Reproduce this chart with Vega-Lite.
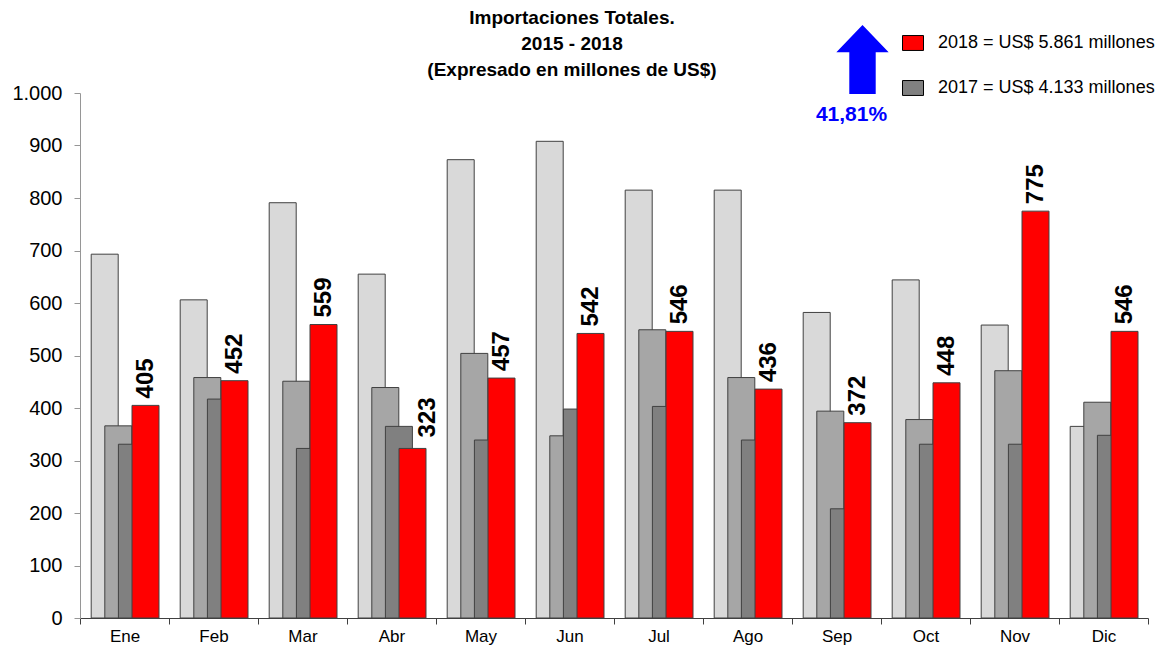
{
  "$schema": "https://vega.github.io/schema/vega-lite/v6.json",
  "width": 1068,
  "height": 525,
  "autosize": {"type": "none"},
  "padding": {"left": 80, "top": 93, "right": 18, "bottom": 32},
  "background": "white",
  "config": {
    "view": {"stroke": null},
    "font": "Liberation Sans",
    "locale": {"number": {"decimal": ",", "thousands": ".", "grouping": [3], "currency": ["US$", ""]}}
  },
  "title": {
    "text": ["Importaciones Totales.", "2015 - 2018", "(Expresado en millones de US$)"],
    "fontSize": 19,
    "fontWeight": "bold",
    "font": "Liberation Sans",
    "lineHeight": 26,
    "anchor": "middle",
    "dx": -42,
    "offset": -55,
    "color": "#000000"
  },
  "datasets": {
    "importaciones": [
      {"mes": "Ene", "anio": 2015, "valor": 693}, {"mes": "Ene", "anio": 2016, "valor": 366}, {"mes": "Ene", "anio": 2017, "valor": 331}, {"mes": "Ene", "anio": 2018, "valor": 405},
      {"mes": "Feb", "anio": 2015, "valor": 606}, {"mes": "Feb", "anio": 2016, "valor": 458}, {"mes": "Feb", "anio": 2017, "valor": 417}, {"mes": "Feb", "anio": 2018, "valor": 452},
      {"mes": "Mar", "anio": 2015, "valor": 791}, {"mes": "Mar", "anio": 2016, "valor": 451}, {"mes": "Mar", "anio": 2017, "valor": 323}, {"mes": "Mar", "anio": 2018, "valor": 559},
      {"mes": "Abr", "anio": 2015, "valor": 655}, {"mes": "Abr", "anio": 2016, "valor": 439}, {"mes": "Abr", "anio": 2017, "valor": 365}, {"mes": "Abr", "anio": 2018, "valor": 323},
      {"mes": "May", "anio": 2015, "valor": 873}, {"mes": "May", "anio": 2016, "valor": 504}, {"mes": "May", "anio": 2017, "valor": 339}, {"mes": "May", "anio": 2018, "valor": 457},
      {"mes": "Jun", "anio": 2015, "valor": 908}, {"mes": "Jun", "anio": 2016, "valor": 347}, {"mes": "Jun", "anio": 2017, "valor": 398}, {"mes": "Jun", "anio": 2018, "valor": 542},
      {"mes": "Jul", "anio": 2015, "valor": 815}, {"mes": "Jul", "anio": 2016, "valor": 549}, {"mes": "Jul", "anio": 2017, "valor": 403}, {"mes": "Jul", "anio": 2018, "valor": 546},
      {"mes": "Ago", "anio": 2015, "valor": 815}, {"mes": "Ago", "anio": 2016, "valor": 458}, {"mes": "Ago", "anio": 2017, "valor": 339}, {"mes": "Ago", "anio": 2018, "valor": 436},
      {"mes": "Sep", "anio": 2015, "valor": 582}, {"mes": "Sep", "anio": 2016, "valor": 394}, {"mes": "Sep", "anio": 2017, "valor": 208}, {"mes": "Sep", "anio": 2018, "valor": 372},
      {"mes": "Oct", "anio": 2015, "valor": 644}, {"mes": "Oct", "anio": 2016, "valor": 378}, {"mes": "Oct", "anio": 2017, "valor": 331}, {"mes": "Oct", "anio": 2018, "valor": 448},
      {"mes": "Nov", "anio": 2015, "valor": 558}, {"mes": "Nov", "anio": 2016, "valor": 471}, {"mes": "Nov", "anio": 2017, "valor": 331}, {"mes": "Nov", "anio": 2018, "valor": 775},
      {"mes": "Dic", "anio": 2015, "valor": 365}, {"mes": "Dic", "anio": 2016, "valor": 411}, {"mes": "Dic", "anio": 2017, "valor": 348}, {"mes": "Dic", "anio": 2018, "valor": 546}
    ],
    "flecha": [{"mes": "Sep", "valor": 1064}],
    "variacion": [{"mes": "Sep", "valor": 958, "texto": "41,81%"}]
  },
  "layer": [
    {
      "data": {"name": "importaciones"},
      "mark": {"type": "bar", "width": 27, "stroke": "#404040", "strokeWidth": 1, "opacity": 1},
      "encoding": {
        "x": {
          "field": "mes", "type": "nominal",
          "scale": {"domain": ["Ene", "Feb", "Mar", "Abr", "May", "Jun", "Jul", "Ago", "Sep", "Oct", "Nov", "Dic"], "paddingInner": 0, "paddingOuter": 0},
          "axis": {"title": null, "labelAngle": 0, "tickBand": "extent", "tickSize": 6, "tickColor": "#404040", "domainColor": "#404040", "labelFontSize": 17, "labelPadding": 4, "labelColor": "#000000", "labelFont": "Liberation Sans"}
        },
        "xOffset": {"field": "anio", "type": "quantitative", "scale": {"domain": [2015, 2018], "range": [24.7, 65.5]}},
        "y": {
          "field": "valor", "type": "quantitative",
          "scale": {"domain": [0, 1000]},
          "axis": {"title": null, "values": [0, 100, 200, 300, 400, 500, 600, 700, 800, 900, 1000], "format": ",d", "grid": false, "domainColor": "#969696", "tickColor": "#969696", "tickSize": 6, "labelFontSize": 20, "labelColor": "#000000", "labelPadding": 12, "labelFont": "Liberation Sans"}
        },
        "color": {
          "field": "anio", "type": "nominal",
          "scale": {"domain": [2015, 2016, 2017, 2018], "range": ["#D9D9D9", "#A6A6A6", "#808080", "#FF0000"]},
          "legend": {
            "orient": "none", "legendX": 822, "legendY": -61, "direction": "vertical",
            "values": [2018, 2017],
            "labelExpr": "datum.value == 2018 ? '2018 = US$ 5.861 millones' : '2017 = US$ 4.133 millones'",
            "title": null,
            "symbolType": "M-1,-0.71H1V0.71H-1Z",
            "symbolSize": 441,
            "symbolStrokeColor": "#000000",
            "symbolStrokeWidth": 1,
            "symbolOpacity": 1,
            "labelFontSize": 18,
            "labelFont": "Liberation Sans",
            "labelColor": "#000000",
            "labelOffset": 14,
            "labelLimit": 400,
            "rowPadding": 24,
            "padding": 0
          }
        }
      }
    },
    {
      "data": {"name": "importaciones"},
      "transform": [{"filter": "datum.anio == 2018 && datum.mes != 'Abr'"}],
      "mark": {"type": "text", "angle": 270, "align": "left", "baseline": "middle", "dx": 7, "fontSize": 24, "fontWeight": "bold", "font": "Liberation Sans", "color": "#000000"},
      "encoding": {
        "x": {"field": "mes", "type": "nominal"},
        "xOffset": {"field": "anio", "type": "quantitative"},
        "y": {"field": "valor", "type": "quantitative"},
        "text": {"field": "valor", "type": "quantitative", "format": "d"}
      }
    },
    {
      "data": {"name": "importaciones"},
      "transform": [{"filter": "datum.anio == 2018 && datum.mes == 'Abr'"}],
      "mark": {"type": "text", "angle": 270, "align": "left", "baseline": "middle", "dx": 11, "dy": 15, "fontSize": 24, "fontWeight": "bold", "font": "Liberation Sans", "color": "#000000"},
      "encoding": {
        "x": {"field": "mes", "type": "nominal"},
        "xOffset": {"field": "anio", "type": "quantitative"},
        "y": {"field": "valor", "type": "quantitative"},
        "text": {"field": "valor", "type": "quantitative", "format": "d"}
      }
    },
    {
      "data": {"name": "flecha"},
      "mark": {"type": "point", "shape": "M0,-1.32L1,-0.275L0.505,-0.275L0.505,1.32L-0.505,1.32L-0.505,-0.275L-1,-0.275Z", "size": 2735, "filled": true, "color": "#0000FF", "opacity": 1, "strokeWidth": 0, "xOffset": 26},
      "encoding": {
        "x": {"field": "mes", "type": "nominal"},
        "y": {"field": "valor", "type": "quantitative"}
      }
    },
    {
      "data": {"name": "variacion"},
      "mark": {"type": "text", "fontSize": 21, "fontWeight": "bold", "font": "Liberation Sans", "color": "#0000FF", "align": "center", "baseline": "middle", "xOffset": 15},
      "encoding": {
        "x": {"field": "mes", "type": "nominal"},
        "y": {"field": "valor", "type": "quantitative"},
        "text": {"field": "texto"}
      }
    }
  ]
}
